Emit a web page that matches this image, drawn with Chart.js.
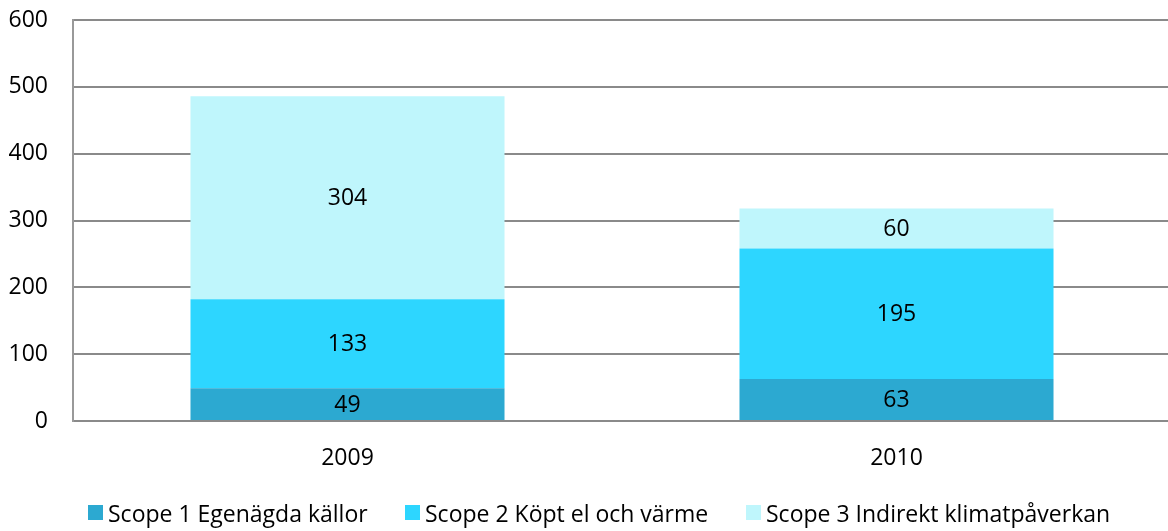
<!DOCTYPE html>
<html><head><meta charset="utf-8">
<script src="https://cdn.jsdelivr.net/npm/chart.js@4/dist/chart.umd.min.js"></script>
<style>
html,body{margin:0;padding:0;background:#fff;overflow:hidden}
#w{position:relative;width:1168px;height:531px;overflow:hidden}
#cw{position:absolute;left:0;top:0;width:1171px;height:531px}
.lg{position:absolute;top:499px;height:28px;font:23px 'Open Sans','DejaVu Sans',sans-serif;color:#000;white-space:nowrap;line-height:28px}
.lg i{position:absolute;left:0;top:6px;width:15px;height:15px}
.lg span{position:absolute;left:20px;top:0}
</style>
</head><body><div id="w"><div id="cw"><canvas id="c"></canvas></div>
<div id="legend"></div></div>
<script>
const categories = ['2009', '2010'];
const scope1 = [49, 63];
const scope2 = [133, 195];
const scope3 = [304, 60];
const seriesNames = ['Scope 1 Egenägda källor', 'Scope 2 Köpt el och värme', 'Scope 3 Indirekt klimatpåverkan'];
const seriesColors = ['#2CA9D1', '#2DD6FF', '#BFF6FC'];
const yTicks = [0, 100, 200, 300, 400, 500, 600];

const FONT = "'Open Sans', 'DejaVu Sans', sans-serif";

const labelPlugin = {
  id: 'segLabels',
  afterDatasetsDraw(chart) {
    const ctx = chart.ctx;
    ctx.save();
    ctx.font = '23px ' + FONT;
    ctx.fillStyle = '#000';
    ctx.textAlign = 'center';
    ctx.textBaseline = 'middle';
    chart.data.datasets.forEach((ds, i) => {
      chart.getDatasetMeta(i).data.forEach((bar, j) => {
        const p = bar.getProps(['x', 'y', 'base'], true);
        ctx.fillText(String(ds.data[j]), p.x, (p.y + p.base) / 2 + 1);
      });
    });
    ctx.restore();
  }
};

const chart = new Chart(document.getElementById('c'), {
  type: 'bar',
  data: {
    labels: categories,
    datasets: [
      { label: seriesNames[0], data: scope1, backgroundColor: seriesColors[0] },
      { label: seriesNames[1], data: scope2, backgroundColor: seriesColors[1] },
      { label: seriesNames[2], data: scope3, backgroundColor: seriesColors[2] }
    ]
  },
  options: {
    responsive: true,
    maintainAspectRatio: false,
    animation: false,
    layout: { padding: { left: 0, right: 0, top: 0, bottom: 59 } },
    datasets: { bar: { categoryPercentage: 0.572, barPercentage: 1.0 } },
    plugins: {
      legend: { display: false },
      tooltip: { enabled: false }
    },
    scales: {
      x: {
        stacked: true,
        grid: { display: false, drawTicks: false },
        border: { display: true, color: '#8A8A8A', width: 2 },
        ticks: { color: '#000', font: { family: FONT, size: 23 }, padding: 24 },
        afterFit(s) { s.height = 51; }
      },
      y: {
        stacked: true,
        min: 0, max: 600,
        afterBuildTicks(s) { s.ticks = yTicks.map(v => ({ value: v })); },
        afterFit(s) { s.width = 73; s.paddingTop = 20; s.paddingBottom = 0; },
        grid: { color: '#8A8A8A', lineWidth: 2, drawTicks: false },
        border: { display: true, color: '#999999', width: 2 },
        ticks: { color: '#000', font: { family: FONT, size: 23 }, padding: 25 }
      }
    }
  },
  plugins: [labelPlugin]
});

const legendLefts = [88, 405, 746];
const lg = document.getElementById('legend');
seriesNames.forEach((n, i) => {
  const d = document.createElement('div');
  d.className = 'lg';
  d.style.left = legendLefts[i] + 'px';
  const b = document.createElement('i');
  b.style.background = seriesColors[i];
  const s = document.createElement('span');
  s.textContent = n;
  d.appendChild(b); d.appendChild(s);
  lg.appendChild(d);
});
</script>
</body></html>
